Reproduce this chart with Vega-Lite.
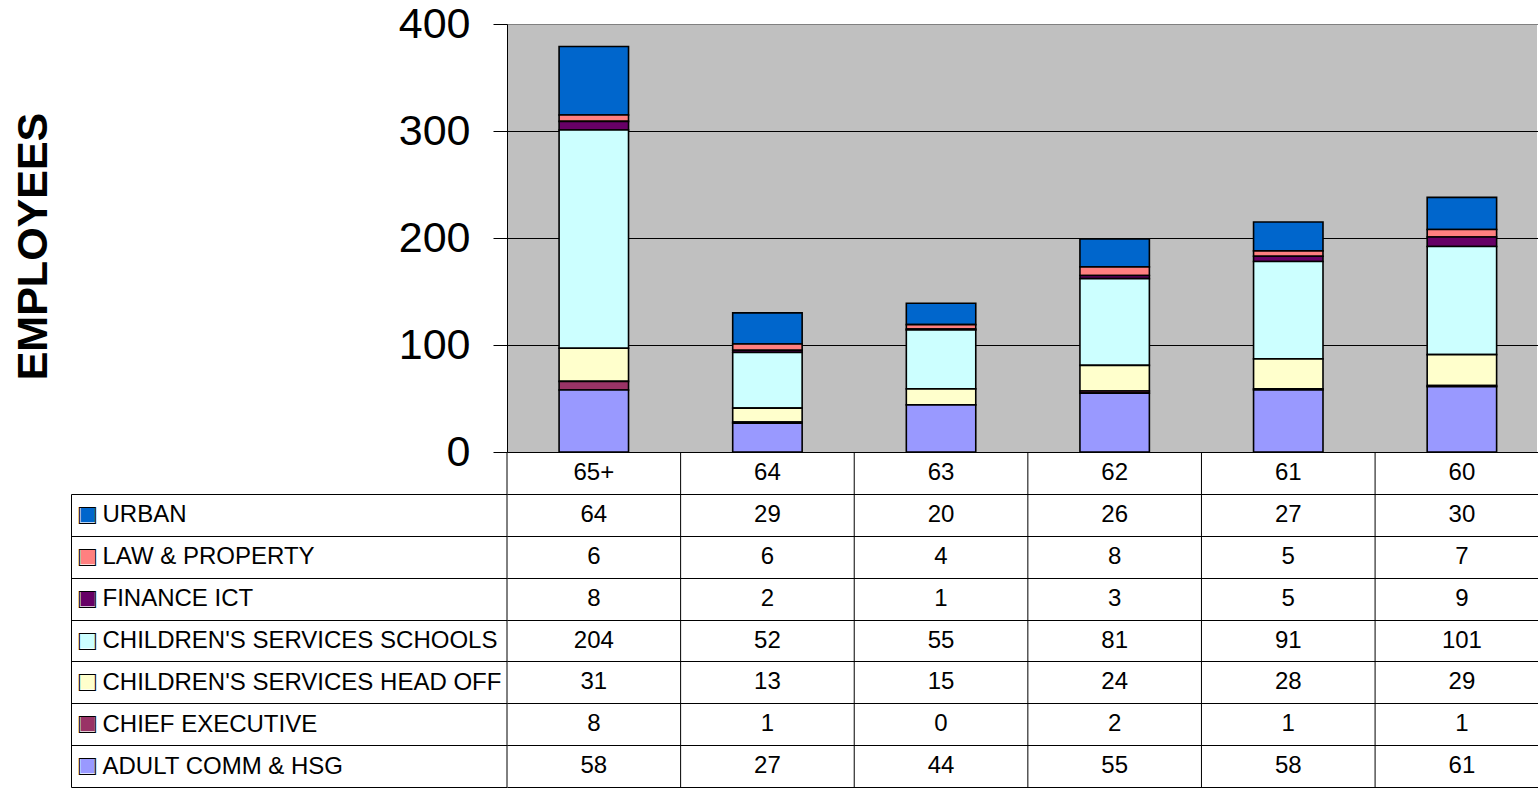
{
  "$schema": "https://vega.github.io/schema/vega-lite/v6.json",
  "autosize": {"type": "pad"},
  "padding": {"left": 12, "top": 3, "right": 0, "bottom": 0},
  "background": "white",
  "bounds": "flush",
  "spacing": 0,
  "config": {
    "font": "Liberation Sans",
    "axis": {"labelFont": "Liberation Sans", "titleFont": "Liberation Sans"},
    "text": {"font": "Liberation Sans"}
  },
  "datasets": {
    "cats": [{"age": "65+"}, {"age": "64"}, {"age": "63"}, {"age": "62"}, {"age": "61"}, {"age": "60"}],
    "table": [
      {"age": "65+", "dept": "URBAN", "n": 64},
      {"age": "65+", "dept": "LAW & PROPERTY", "n": 6},
      {"age": "65+", "dept": "FINANCE ICT", "n": 8},
      {"age": "65+", "dept": "CHILDREN'S SERVICES SCHOOLS", "n": 204},
      {"age": "65+", "dept": "CHILDREN'S SERVICES HEAD OFF", "n": 31},
      {"age": "65+", "dept": "CHIEF EXECUTIVE", "n": 8},
      {"age": "65+", "dept": "ADULT COMM & HSG", "n": 58},
      {"age": "64", "dept": "URBAN", "n": 29},
      {"age": "64", "dept": "LAW & PROPERTY", "n": 6},
      {"age": "64", "dept": "FINANCE ICT", "n": 2},
      {"age": "64", "dept": "CHILDREN'S SERVICES SCHOOLS", "n": 52},
      {"age": "64", "dept": "CHILDREN'S SERVICES HEAD OFF", "n": 13},
      {"age": "64", "dept": "CHIEF EXECUTIVE", "n": 1},
      {"age": "64", "dept": "ADULT COMM & HSG", "n": 27},
      {"age": "63", "dept": "URBAN", "n": 20},
      {"age": "63", "dept": "LAW & PROPERTY", "n": 4},
      {"age": "63", "dept": "FINANCE ICT", "n": 1},
      {"age": "63", "dept": "CHILDREN'S SERVICES SCHOOLS", "n": 55},
      {"age": "63", "dept": "CHILDREN'S SERVICES HEAD OFF", "n": 15},
      {"age": "63", "dept": "CHIEF EXECUTIVE", "n": 0},
      {"age": "63", "dept": "ADULT COMM & HSG", "n": 44},
      {"age": "62", "dept": "URBAN", "n": 26},
      {"age": "62", "dept": "LAW & PROPERTY", "n": 8},
      {"age": "62", "dept": "FINANCE ICT", "n": 3},
      {"age": "62", "dept": "CHILDREN'S SERVICES SCHOOLS", "n": 81},
      {"age": "62", "dept": "CHILDREN'S SERVICES HEAD OFF", "n": 24},
      {"age": "62", "dept": "CHIEF EXECUTIVE", "n": 2},
      {"age": "62", "dept": "ADULT COMM & HSG", "n": 55},
      {"age": "61", "dept": "URBAN", "n": 27},
      {"age": "61", "dept": "LAW & PROPERTY", "n": 5},
      {"age": "61", "dept": "FINANCE ICT", "n": 5},
      {"age": "61", "dept": "CHILDREN'S SERVICES SCHOOLS", "n": 91},
      {"age": "61", "dept": "CHILDREN'S SERVICES HEAD OFF", "n": 28},
      {"age": "61", "dept": "CHIEF EXECUTIVE", "n": 1},
      {"age": "61", "dept": "ADULT COMM & HSG", "n": 58},
      {"age": "60", "dept": "URBAN", "n": 30},
      {"age": "60", "dept": "LAW & PROPERTY", "n": 7},
      {"age": "60", "dept": "FINANCE ICT", "n": 9},
      {"age": "60", "dept": "CHILDREN'S SERVICES SCHOOLS", "n": 101},
      {"age": "60", "dept": "CHILDREN'S SERVICES HEAD OFF", "n": 29},
      {"age": "60", "dept": "CHIEF EXECUTIVE", "n": 1},
      {"age": "60", "dept": "ADULT COMM & HSG", "n": 61}
    ]
  },
  "vconcat": [
    {
      "width": 1030,
      "height": 428,
      "view": {"fill": "#c0c0c0", "stroke": null},
      "data": {"name": "table"},
      "mark": {"type": "bar", "stroke": "black", "strokeWidth": 1.6},
      "encoding": {
        "x": {
          "field": "age", "type": "nominal",
          "sort": ["65+", "64", "63", "62", "61", "60"],
          "scale": {"range": [0, 1041.7], "paddingInner": 0.6, "paddingOuter": 0.3},
          "axis": {
            "orient": "bottom", "domain": false, "ticks": false, "grid": false,
            "labelAngle": 0, "labelFontSize": 24, "labelColor": "black",
            "labelPadding": 20, "labelBaseline": "middle", "title": null
          }
        },
        "y": {
          "field": "n", "type": "quantitative", "stack": "zero",
          "scale": {"domain": [0, 400], "nice": false},
          "axis": {
            "values": [0, 100, 200, 300, 400],
            "grid": true,
            "gridColor": {"condition": {"test": "datum.value == 400", "value": "#808080"}, "value": "black"},
            "gridOpacity": 1, "gridWidth": 1,
            "domain": true, "domainColor": "black", "domainWidth": 1,
            "ticks": true, "tickSize": 14, "tickColor": "black", "tickWidth": 1,
            "labelFontSize": 43, "labelColor": "black", "labelPadding": 23,
            "title": "EMPLOYEES", "titleFontSize": 43, "titleFontWeight": "bold",
            "titleColor": "black", "titlePadding": 343, "titleY": 222
          }
        },
        "color": {
          "field": "dept", "type": "nominal",
          "scale": {
            "domain": ["ADULT COMM & HSG", "CHIEF EXECUTIVE", "CHILDREN'S SERVICES HEAD OFF", "CHILDREN'S SERVICES SCHOOLS", "FINANCE ICT", "LAW & PROPERTY", "URBAN"],
            "range": ["#9999FF", "#993366", "#FFFFCC", "#CCFFFF", "#660066", "#FF8080", "#0066CC"]
          },
          "legend": null
        },
        "order": {"field": "dept", "type": "nominal", "sort": "ascending"}
      }
    },
    {
      "width": 1030,
      "height": 335,
      "view": {"stroke": null},
      "resolve": {"axis": {"y": "independent"}},
      "layer": [
        {
          "data": {"name": "cats"},
          "mark": {"type": "rule", "color": "black", "strokeWidth": 1},
          "encoding": {
            "x": {
              "field": "age", "type": "nominal",
              "sort": ["65+", "64", "63", "62", "61", "60"],
              "bandPosition": 0,
              "scale": {"range": [0, 1041.7], "paddingInner": 0, "paddingOuter": 0},
              "axis": null
            }
          }
        },
        {
          "data": {"name": "table"},
          "mark": {"type": "text", "fontSize": 24, "color": "black", "baseline": "middle", "align": "center"},
          "encoding": {
            "x": {"field": "age", "type": "nominal", "sort": ["65+", "64", "63", "62", "61", "60"], "axis": null},
            "y": {
              "field": "dept", "type": "nominal",
              "sort": ["URBAN", "LAW & PROPERTY", "FINANCE ICT", "CHILDREN'S SERVICES SCHOOLS", "CHILDREN'S SERVICES HEAD OFF", "CHIEF EXECUTIVE", "ADULT COMM & HSG"],
              "scale": {
                "domain": ["URBAN", "LAW & PROPERTY", "FINANCE ICT", "CHILDREN'S SERVICES SCHOOLS", "CHILDREN'S SERVICES HEAD OFF", "CHIEF EXECUTIVE", "ADULT COMM & HSG"],
                "range": [42, 335], "paddingInner": 0, "paddingOuter": 0
              },
              "axis": {
                "orient": "left", "tickBand": "extent",
                "ticks": true, "tickSize": 436, "tickColor": "black", "tickWidth": 1,
                "grid": true, "gridColor": "black", "gridWidth": 1, "gridOpacity": 1,
                "domain": false,
                "labelAlign": "left", "labelPadding": -31, "labelFontSize": 24,
                "labelColor": "black", "labelBaseline": "middle", "labelLimit": 0,
                "title": null
              }
            },
            "text": {"field": "n", "type": "quantitative"}
          }
        },
        {
          "data": {"name": "table"},
          "mark": {"type": "text", "text": ""},
          "encoding": {
            "y": {
              "field": "dept", "type": "nominal",
              "sort": ["URBAN", "LAW & PROPERTY", "FINANCE ICT", "CHILDREN'S SERVICES SCHOOLS", "CHILDREN'S SERVICES HEAD OFF", "CHIEF EXECUTIVE", "ADULT COMM & HSG"],
              "axis": {
                "orient": "left", "offset": 436, "domain": false, "ticks": false, "grid": false,
                "labelExpr": "'■'", "labelFontSize": 29, "labelAlign": "center",
                "labelBaseline": "middle", "labelPadding": -16,
                "labelColor": {
                  "condition": [
                    {"test": "datum.value === 'URBAN'", "value": "#0066CC"},
                    {"test": "datum.value === 'LAW & PROPERTY'", "value": "#FF8080"},
                    {"test": "datum.value === 'FINANCE ICT'", "value": "#660066"},
                    {"test": "datum.value === \"CHILDREN'S SERVICES SCHOOLS\"", "value": "#CCFFFF"},
                    {"test": "datum.value === \"CHILDREN'S SERVICES HEAD OFF\"", "value": "#FFFFCC"},
                    {"test": "datum.value === 'CHIEF EXECUTIVE'", "value": "#993366"}
                  ],
                  "value": "#9999FF"
                },
                "title": null
              }
            }
          }
        },
        {
          "data": {"name": "table"},
          "mark": {"type": "text", "text": ""},
          "encoding": {
            "y": {
              "field": "dept", "type": "nominal",
              "sort": ["URBAN", "LAW & PROPERTY", "FINANCE ICT", "CHILDREN'S SERVICES SCHOOLS", "CHILDREN'S SERVICES HEAD OFF", "CHIEF EXECUTIVE", "ADULT COMM & HSG"],
              "axis": {
                "orient": "left", "offset": 436, "domain": true, "domainColor": "black", "domainWidth": 1,
                "ticks": false, "grid": false,
                "labelExpr": "'□'", "labelFontSize": 29, "labelAlign": "center",
                "labelBaseline": "middle", "labelPadding": -16, "labelColor": "black",
                "title": null
              }
            }
          }
        }
      ]
    }
  ]
}
